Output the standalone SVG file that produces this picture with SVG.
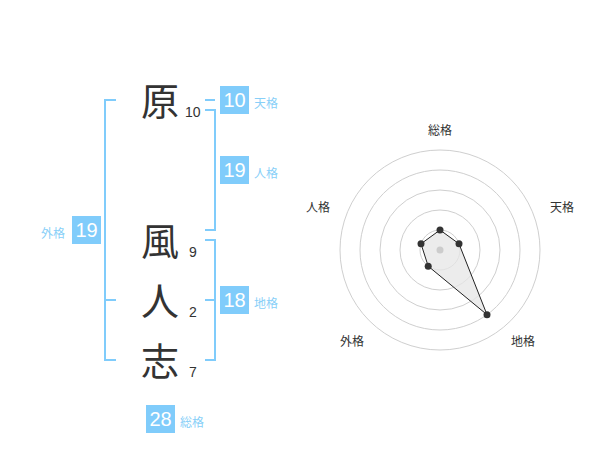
<svg xmlns="http://www.w3.org/2000/svg" width="600" height="470" viewBox="0 0 600 470">
<style>
.ch{font-family:"Noto Sans CJK JP","Noto Sans CJK SC",sans-serif;font-size:38px;fill:#333;text-anchor:middle}
.num{font-family:"Liberation Sans",Arial,sans-serif;font-size:14px;fill:#333}
.box{fill:#80ccfb}
.bt{font-family:"Liberation Sans",Arial,sans-serif;font-size:20px;fill:#fff;text-anchor:middle}
.lb{font-family:"Noto Sans CJK JP","Noto Sans CJK SC",sans-serif;font-size:12px;fill:#88cff8}
.br{fill:none;stroke:#80ccfb;stroke-width:2}
.ring{fill:none;stroke:#cfcfcf;stroke-width:1}
.rl{font-family:"Noto Sans CJK JP","Noto Sans CJK SC",sans-serif;font-size:12px;fill:#333;text-anchor:middle}
.pt{fill:#333}
</style>
<rect width="600" height="470" fill="#fff"/>
<g id="connectors">
<path class="br" d="M205,100H215"/>
<path class="br" d="M205,110H215V230H205"/>
<path class="br" d="M205,240H215V360H205M205,300H215"/>
<path class="br" d="M116,100H105V360H116M105,300H116"/>
</g>
<g id="char-hara"><text class="ch" x="160" y="115">原</text><text class="num" x="185" y="117">10</text></g>
<g id="char-kaze"><text class="ch" x="160" y="255">風</text><text class="num" x="189" y="257">9</text></g>
<g id="char-hito"><text class="ch" x="160" y="315">人</text><text class="num" x="189" y="317">2</text></g>
<g id="char-kokorozashi"><text class="ch" x="160" y="375">志</text><text class="num" x="189" y="377">7</text></g>
<g id="tenkaku"><rect class="box" x="220" y="86" width="29" height="28"/><text class="bt" x="234.5" y="107">10</text><text class="lb" x="254" y="108">天格</text></g>
<g id="jinkaku"><rect class="box" x="220" y="156" width="29" height="28"/><text class="bt" x="234.5" y="177">19</text><text class="lb" x="254" y="178">人格</text></g>
<g id="chikaku"><rect class="box" x="220" y="286" width="29" height="28"/><text class="bt" x="234.5" y="307">18</text><text class="lb" x="254" y="308">地格</text></g>
<g id="gaikaku"><rect class="box" x="72" y="216" width="29" height="28"/><text class="bt" x="86.5" y="237">19</text><text class="lb" x="41" y="238">外格</text></g>
<g id="soukaku"><rect class="box" x="146" y="405" width="29" height="28"/><text class="bt" x="160.5" y="426">28</text><text class="lb" x="180" y="427">総格</text></g>
<g id="radar">
<circle class="ring" cx="440" cy="250" r="20"/>
<circle class="ring" cx="440" cy="250" r="40"/>
<circle class="ring" cx="440" cy="250" r="60"/>
<circle class="ring" cx="440" cy="250" r="80"/>
<circle class="ring" cx="440" cy="250" r="100"/>
<polygon points="440,230 459,243.8 487,314.7 428.2,266.2 421,243.8" fill="#e6e6e6" fill-opacity="0.75" stroke="#222" stroke-width="1"/>
<circle cx="440" cy="250" r="3.5" fill="#cccccc"/>
<circle class="pt" cx="440" cy="230" r="3.5"/>
<circle class="pt" cx="459" cy="243.8" r="3.5"/>
<circle class="pt" cx="487" cy="314.7" r="3.5"/>
<circle class="pt" cx="428.2" cy="266.2" r="3.5"/>
<circle class="pt" cx="421" cy="243.8" r="3.5"/>
<text class="rl" x="440" y="135">総格</text>
<text class="rl" x="562" y="212">天格</text>
<text class="rl" x="318" y="212">人格</text>
<text class="rl" x="352" y="346">外格</text>
<text class="rl" x="523" y="346">地格</text>
</g>
</svg>
